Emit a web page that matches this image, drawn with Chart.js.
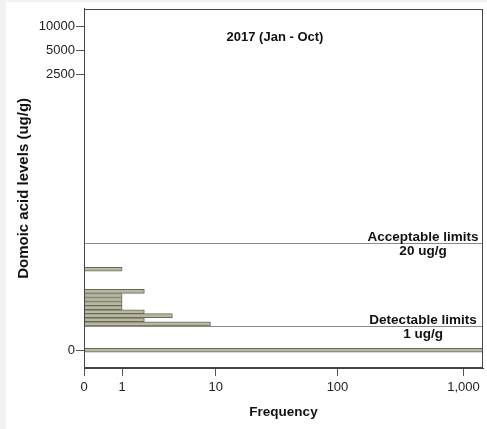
<!DOCTYPE html>
<html>
<head>
<meta charset="utf-8">
<script src="https://cdn.jsdelivr.net/npm/chart.js@4/dist/chart.umd.min.js"></script>
<style>
  html, body { margin: 0; padding: 0; background: #ffffff; }
  #wrap { width: 487px; height: 429px; }
</style>
</head>
<body>
<div id="wrap"><canvas id="c" width="487" height="429"></canvas></div>
<script>
// Domoic acid level bins (ug/g, bin centres) and their frequencies
const levelBins   = [0, 1.12, 1.38, 1.67, 1.99, 2.36, 2.77, 3.23, 3.74, 4.32, 9.0];
const frequencies = [1500, 9, 2, 4, 2, 1, 1, 1, 1, 2, 1];

// Axis ticks
const yTickValues = [0, 2500, 5000, 10000];
const yTickLabels = ['0', '2500', '5000', '10000'];
const xTickValues = [0, 1, 10, 100, 1000];
const xTickLabels = ['0', '1', '10', '100', '1,000'];

// Reference limits
const limitValues = [20, 1];
const limitTop    = ['Acceptable limits', 'Detectable limits'];
const limitBottom = ['20 ug/g', '1 ug/g'];

const chartTitle = '2017 (Jan - Oct)';

const tf = v => Math.log10(v + 1);

const points = levelBins.map((v, i) => ({ x: tf(frequencies[i]), y: tf(v) }));

const FONT = "'Liberation Sans', Arial, sans-serif";

const decor = {
  id: 'decor',
  beforeDraw(chart) {
    const ctx = chart.ctx;
    ctx.save();
    ctx.fillStyle = '#f2f2f2';
    ctx.fillRect(0, 0, chart.width, chart.height);
    ctx.fillStyle = '#ffffff';
    ctx.fillRect(6, 2, chart.width - 6, chart.height - 2);
    ctx.restore();
  },
  afterDraw(chart) {
    const ctx = chart.ctx;
    const a = chart.chartArea;
    const ys = chart.scales.y;
    ctx.save();
    // limit lines and labels
    limitValues.forEach((v, i) => {
      const py = Math.round(ys.getPixelForValue(tf(v))) + 0.5;
      ctx.strokeStyle = '#8a8a8a';
      ctx.lineWidth = 1;
      ctx.beginPath();
      ctx.moveTo(a.left, py);
      ctx.lineTo(a.right, py);
      ctx.stroke();
      ctx.fillStyle = '#111';
      ctx.font = "bold 13.5px " + FONT;
      ctx.textAlign = 'center';
      ctx.textBaseline = 'alphabetic';
      const cx = a.right - 60;
      ctx.fillText(limitTop[i], cx, py - 3);
      ctx.fillText(limitBottom[i], cx, py + 11.5);
    });
    // title
    ctx.fillStyle = '#111';
    ctx.font = "bold 13px " + FONT;
    ctx.textAlign = 'center';
    ctx.textBaseline = 'alphabetic';
    ctx.fillText(chartTitle, 275, 40.5);
    // frame
    ctx.strokeStyle = '#444';
    ctx.lineWidth = 1;
    ctx.strokeRect(Math.round(a.left) + 0.5, Math.round(a.top) + 0.5,
                   Math.round(a.right - a.left) - 1, Math.round(a.bottom - a.top) - 1);
    ctx.restore();
  }
};

new Chart(document.getElementById('c'), {
  type: 'bar',
  data: {
    datasets: [{
      data: points,
      backgroundColor: '#b8b8a0',
      borderColor: '#6a6a58',
      borderWidth: 1,
      barPercentage: 1,
      categoryPercentage: 1
    }]
  },
  options: {
    indexAxis: 'y',
    responsive: false,
    animation: false,
    devicePixelRatio: 1,
    layout: { padding: { top: 7, right: 4, left: 0, bottom: 0 } },
    plugins: { legend: { display: false }, tooltip: { enabled: false }, title: { display: false } },
    scales: {
      x: {
        type: 'linear',
        min: 0,
        max: 3.155,
        offset: false,
        afterFit(s) { s.height = 61; },
        afterBuildTicks(s) { s.ticks = xTickValues.map(v => ({ value: tf(v) })); },
        ticks: {
          autoSkip: false, maxRotation: 0, padding: 4,
          color: '#222', font: { family: FONT, size: 13 },
          callback: (val, idx) => xTickLabels[idx]
        },
        grid: { offset: false, drawOnChartArea: false, drawTicks: true, tickLength: 8, color: '#555' },
        border: { display: true, color: '#444' },
        title: {
          display: true, text: 'Frequency', color: '#111',
          font: { family: FONT, size: 13.5, weight: 'bold' },
          padding: { top: 0, bottom: 9 }
        }
      },
      y: {
        type: 'linear',
        min: -0.219,
        max: 4.214,
        offset: false,
        afterFit(s) { s.width = 84; },
        afterBuildTicks(s) { s.ticks = yTickValues.map(v => ({ value: tf(v) })); },
        ticks: {
          autoSkip: false, padding: 1,
          color: '#222', font: { family: FONT, size: 13 },
          callback: (val, idx) => yTickLabels[idx]
        },
        grid: { offset: false, drawOnChartArea: false, drawTicks: true, tickLength: 8, color: '#555' },
        border: { display: true, color: '#444' },
        title: {
          display: true, text: 'Domoic acid levels (ug/g)', color: '#111',
          font: { family: FONT, size: 15, weight: 'bold' },
          padding: { top: 15, bottom: 0 }
        }
      }
    }
  },
  plugins: [decor]
});
</script>
</body>
</html>
